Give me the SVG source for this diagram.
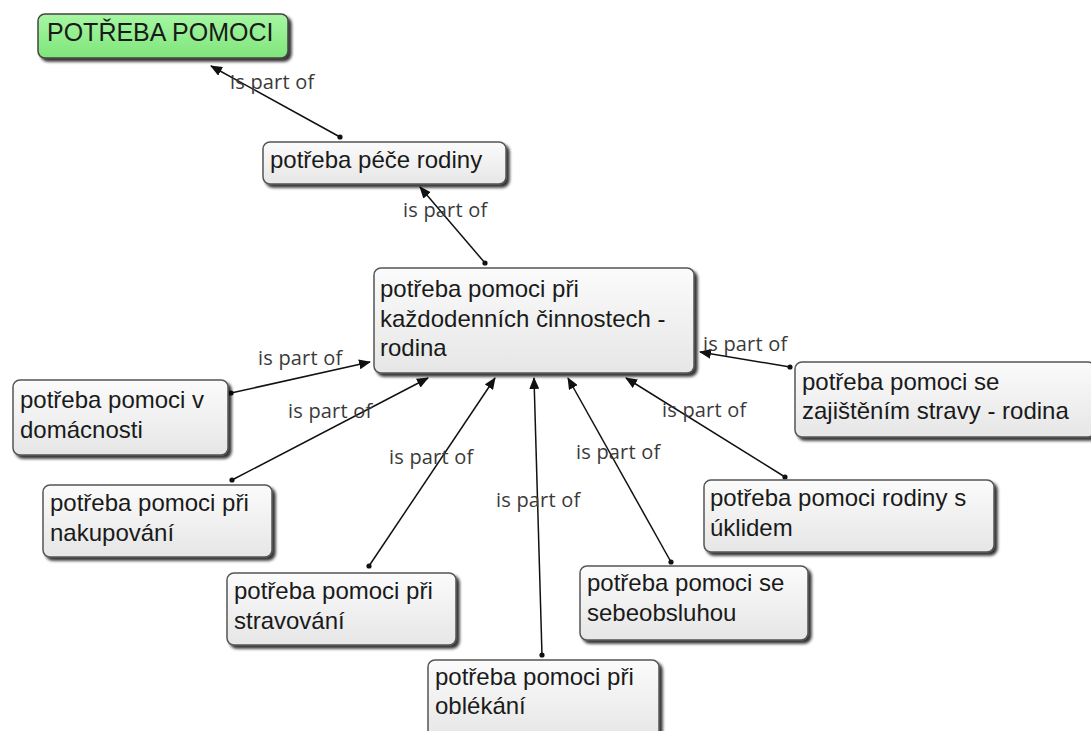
<svg xmlns="http://www.w3.org/2000/svg" width="1091" height="731" viewBox="0 0 1091 731">
  <defs>
    <linearGradient id="gFill" x1="0" y1="0" x2="0" y2="1">
      <stop offset="0" stop-color="#fbfbfb"/>
      <stop offset="1" stop-color="#e6e6e6"/>
    </linearGradient>
    <linearGradient id="gGreen" x1="0" y1="0" x2="0" y2="1">
      <stop offset="0" stop-color="#a6f7a2"/>
      <stop offset="1" stop-color="#7fe57b"/>
    </linearGradient>
    <filter id="shadow" x="-10%" y="-10%" width="125%" height="135%">
      <feGaussianBlur in="SourceAlpha" stdDeviation="1.5"/>
      <feOffset dx="3" dy="3" result="b"/>
      <feComponentTransfer><feFuncA type="linear" slope="0.8"/></feComponentTransfer>
      <feMerge><feMergeNode/><feMergeNode in="SourceGraphic"/></feMerge>
    </filter>
    <marker id="arrow" viewBox="0 0 12 10" refX="11" refY="5" markerWidth="12" markerHeight="10" markerUnits="userSpaceOnUse" orient="auto">
      <path d="M0,0 L12,5 L0,10 z" fill="#111"/>
    </marker>
    <marker id="dot" viewBox="0 0 6 6" refX="3" refY="3" markerWidth="6" markerHeight="6" markerUnits="userSpaceOnUse">
      <circle cx="3" cy="3" r="2.6" fill="#111"/>
    </marker>
  </defs>
  <style>
    .box { fill: url(#gFill); stroke: #555; stroke-width: 1.5; filter: url(#shadow); }
    .root { fill: url(#gGreen); stroke: #444; stroke-width: 1.5; filter: url(#shadow); }
    .t { font-family: "Liberation Sans", Arial, sans-serif; font-size: 24px; fill: #1a1a1a; }
    .big { font-size: 25px; }
    .lbl { font-family: "Open Sans", "DejaVu Sans", sans-serif; font-size: 20px; letter-spacing: 0.2px; fill: #3a3a3a; }
    .c { stroke: #111; stroke-width: 1.5; fill: none; marker-start: url(#dot); marker-end: url(#arrow); }
  </style>

  <rect width="1091" height="731" fill="#fff"/>

  <!-- connectors -->
  <g id="connectors">
    <line class="c" x1="340" y1="137" x2="211" y2="66"/>
    <line class="c" x1="485" y1="263" x2="420" y2="187"/>
    <line class="c" x1="231" y1="393" x2="370" y2="362"/>
    <line class="c" x1="232" y1="480" x2="428" y2="378"/>
    <line class="c" x1="369" y1="566" x2="495" y2="378"/>
    <line class="c" x1="542" y1="655" x2="534" y2="378"/>
    <line class="c" x1="671" y1="562" x2="568" y2="378"/>
    <line class="c" x1="785" y1="477" x2="626" y2="378"/>
    <line class="c" x1="790" y1="367" x2="700" y2="352"/>
    <text class="lbl" x="230" y="89">is part of</text>
    <text class="lbl" x="403" y="217">is part of</text>
    <text class="lbl" x="258" y="365">is part of</text>
    <text class="lbl" x="288" y="418">is part of</text>
    <text class="lbl" x="389" y="464">is part of</text>
    <text class="lbl" x="496" y="507">is part of</text>
    <text class="lbl" x="576" y="459">is part of</text>
    <text class="lbl" x="662" y="417">is part of</text>
    <text class="lbl" x="703" y="351">is part of</text>
  </g>

  <g id="n-root">
    <rect class="root" x="38" y="14" width="250" height="44" rx="7"/>
    <text class="t big" x="47" y="41">POTŘEBA POMOCI</text>
  </g>
  <g id="n-pece">
    <rect class="box" x="263" y="142" width="243" height="42" rx="7"/>
    <text class="t" x="270" y="168">potřeba péče rodiny</text>
  </g>
  <g id="n-central">
    <rect class="box" x="374" y="268" width="320" height="105" rx="7"/>
    <text class="t" x="380" y="297">potřeba pomoci při</text>
    <text class="t" x="380" y="327">každodenních činnostech -</text>
    <text class="t" x="380" y="356">rodina</text>
  </g>
  <g id="n-domacnost">
    <rect class="box" x="13" y="380" width="215" height="75" rx="7"/>
    <text class="t" x="20" y="408">potřeba pomoci v</text>
    <text class="t" x="20" y="438">domácnosti</text>
  </g>
  <g id="n-nakupovani">
    <rect class="box" x="43" y="485" width="229" height="72" rx="7"/>
    <text class="t" x="50" y="511">potřeba pomoci při</text>
    <text class="t" x="50" y="541">nakupování</text>
  </g>
  <g id="n-stravovani">
    <rect class="box" x="227" y="573" width="229" height="72" rx="7"/>
    <text class="t" x="234" y="599">potřeba pomoci při</text>
    <text class="t" x="234" y="629">stravování</text>
  </g>
  <g id="n-oblekani">
    <rect class="box" x="428" y="660" width="231" height="80" rx="7"/>
    <text class="t" x="435" y="685">potřeba pomoci při</text>
    <text class="t" x="435" y="714">oblékání</text>
  </g>
  <g id="n-sebeobsluha">
    <rect class="box" x="580" y="566" width="228" height="74" rx="7"/>
    <text class="t" x="587" y="591">potřeba pomoci se</text>
    <text class="t" x="587" y="621">sebeobsluhou</text>
  </g>
  <g id="n-uklid">
    <rect class="box" x="704" y="480" width="290" height="72" rx="7"/>
    <text class="t" x="710" y="506">potřeba pomoci rodiny s</text>
    <text class="t" x="710" y="536">úklidem</text>
  </g>
  <g id="n-strava">
    <rect class="box" x="795" y="362" width="300" height="75" rx="7"/>
    <text class="t" x="802" y="390">potřeba pomoci se</text>
    <text class="t" x="802" y="419">zajištěním stravy - rodina</text>
  </g>
</svg>
